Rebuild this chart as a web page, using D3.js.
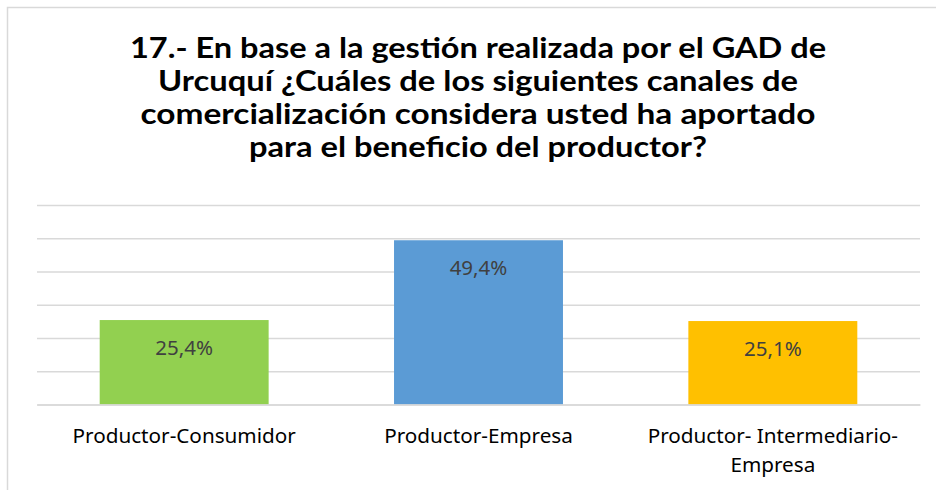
<!DOCTYPE html>
<html>
<head>
<meta charset="utf-8">
<script src="https://cdn.jsdelivr.net/npm/d3@7"></script>
<style>
  html, body { margin: 0; padding: 0; background: #fff; }
  svg { display: block; }
</style>
</head>
<body>
<svg id="chart" width="936" height="490"></svg>
<script>
// ---- data ----
const titleLines = [
  "17.- En base a la gestión realizada por el GAD de",
  "Urcuquí ¿Cuáles de los siguientes canales de",
  "comercialización considera usted ha aportado",
  "para el beneficio del productor?"
];
const categories = ["Productor-Consumidor", "Productor-Empresa", "Productor- Intermediario-Empresa"];
const values = [25.4, 49.4, 25.1];
const valueLabels = ["25,4%", "49,4%", "25,1%"];
const barColors = ["#92D050", "#5B9BD5", "#FFC000"];
const yTicks = [0, 10, 20, 30, 40, 50, 60];

// ---- layout ----
const svg = d3.select("#chart");
const plot = { left: 37, right: 920, top: 205, bottom: 404.5 };

// chart border
svg.append("rect")
  .attr("x", 7.5).attr("y", 7.5)
  .attr("width", 1200).attr("height", 1200)
  .attr("fill", "#fff")
  .attr("stroke", "#D9D9D9").attr("stroke-width", 1.5);

// title
const titleWidths = [696, 640, 675, 458];
svg.append("g").selectAll("text")
  .data(titleLines)
  .join("text")
  .attr("x", 478)
  .attr("y", (d, i) => 58 + i * 33)
  .attr("text-anchor", "middle")
  .attr("font-family", "Lato, 'DejaVu Sans', sans-serif")
  .attr("font-weight", "bold")
  .attr("font-size", 29)
  .attr("fill", "#000")
  .attr("textLength", (d, i) => titleWidths[i])
  .attr("lengthAdjust", "spacingAndGlyphs")
  .text(d => d);

// scales
const x = d3.scaleBand()
  .domain(categories)
  .range([plot.left, plot.right])
  .paddingInner(0.426)
  .paddingOuter(0.213);
const y = d3.scaleLinear()
  .domain([0, 60])
  .range([plot.bottom, plot.top]);

// gridlines
const yAxis = d3.axisLeft(y)
  .tickValues(yTicks)
  .tickSize(-(plot.right - plot.left))
  .tickFormat("");
const gy = svg.append("g")
  .attr("transform", `translate(${plot.left},0)`)
  .call(yAxis);
gy.select(".domain").remove();
gy.selectAll(".tick line")
  .attr("stroke", "#D9D9D9")
  .attr("stroke-width", 1.5);

// bars
svg.append("g").selectAll("rect")
  .data(values)
  .join("rect")
  .attr("x", (d, i) => x(categories[i]))
  .attr("y", d => y(d))
  .attr("width", x.bandwidth())
  .attr("height", d => y(0) - y(d))
  .attr("fill", (d, i) => barColors[i]);

// value labels
svg.append("g").selectAll("text")
  .data(values)
  .join("text")
  .attr("x", (d, i) => x(categories[i]) + x.bandwidth() / 2)
  .attr("y", d => y(d) + 35)
  .attr("text-anchor", "middle")
  .attr("font-family", "'Noto Sans', 'Open Sans', sans-serif")
  .attr("font-size", 20.5)
  .attr("fill", "#404040")
  .text((d, i) => valueLabels[i]);

// category axis labels with wrapping
const xAxis = d3.axisBottom(x).tickSize(0).tickPadding(0);
const gx = svg.append("g")
  .attr("transform", `translate(0,${plot.bottom})`)
  .call(xAxis);
gx.select(".domain")
  .attr("stroke", "#D9D9D9").attr("stroke-width", 1.5);
gx.selectAll(".tick text")
  .attr("font-family", "'Noto Sans', 'Open Sans', sans-serif")
  .attr("font-size", 20.7)
  .attr("fill", "#000")
  .attr("y", 38.5)
  .attr("dy", 0)
  .each(function(d) {
    const t = d3.select(this);
    const maxW = x.step() * 0.92;
    // split after hyphens and spaces
    const tokens = d.match(/[^\s-]+-?\s*|\s+/g);
    t.text(null);
    let lines = [];
    let cur = "";
    const probe = t.append("tspan");
    tokens.forEach(tok => {
      const test = cur + tok;
      probe.text(test.trimEnd());
      if (probe.node().getComputedTextLength() > maxW && cur !== "") {
        lines.push(cur.trimEnd());
        cur = tok;
      } else {
        cur = test;
      }
    });
    lines.push(cur.trimEnd());
    probe.remove();
    lines.forEach((ln, i) => {
      t.append("tspan")
        .attr("x", 0)
        .attr("dy", i === 0 ? 0 : 29)
        .text(ln);
    });
  });
</script>
</body>
</html>
